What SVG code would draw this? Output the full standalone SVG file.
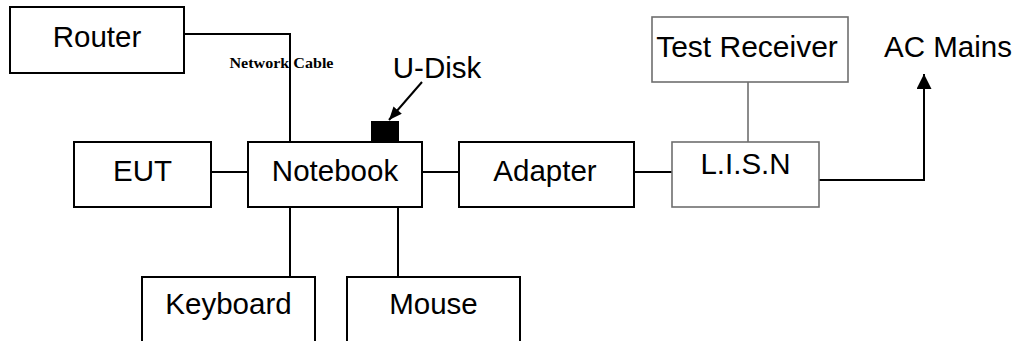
<svg xmlns="http://www.w3.org/2000/svg" width="1018" height="341" viewBox="0 0 1018 341">
  <style>
    .box { fill: #ffffff; stroke: #000000; stroke-width: 2; }
    .box-gray { fill: #ffffff; stroke: #6e6e6e; stroke-width: 1.6; }
    .label { font-family: "Liberation Sans", Arial, sans-serif; font-size: 29.5px; fill: #000000; text-anchor: middle; }
    .wire { fill: none; stroke: #000000; stroke-width: 2; }
    .wire-gray { fill: none; stroke: #6e6e6e; stroke-width: 1.6; }
    .cable-label { font-family: "Liberation Serif", "Times New Roman", serif; font-weight: bold; font-size: 15px; fill: #000000; }
  </style>
  <defs>
    <marker id="arrow-big" viewBox="0 0 10 10" refX="10" refY="5" markerWidth="15" markerHeight="15" markerUnits="userSpaceOnUse" orient="auto">
      <path d="M0,0 L10,5 L0,10 z" fill="#000000"/>
    </marker>
    <marker id="arrow-udisk" viewBox="0 0 12 10" refX="12" refY="5" markerWidth="14" markerHeight="11" markerUnits="userSpaceOnUse" orient="auto">
      <path d="M0,0 L12,5 L0,10 z" fill="#000000"/>
    </marker>
  </defs>

  <rect width="1018" height="341" fill="#ffffff"/>

  <!-- connectors -->
  <g id="connectors">
    <polyline class="wire" points="184,34 290,34 290,142"/>
    <line class="wire" x1="211" y1="172" x2="248" y2="172"/>
    <line class="wire" x1="422" y1="172" x2="459" y2="172"/>
    <line class="wire" x1="634" y1="172" x2="672" y2="172"/>
    <line class="wire-gray" x1="748" y1="82" x2="748" y2="142"/>
    <line class="wire" x1="290" y1="207" x2="290" y2="277"/>
    <line class="wire" x1="398" y1="207" x2="398" y2="277"/>
    <polyline class="wire" points="819,180 924,180 924,74" marker-end="url(#arrow-big)"/>
    <line class="wire" x1="422" y1="82" x2="389" y2="120" marker-end="url(#arrow-udisk)"/>
    <text class="cable-label" x="229.5" y="68" textLength="104" lengthAdjust="spacingAndGlyphs">Network Cable</text>
  </g>

  <g id="router">
    <rect class="box" x="10" y="7" width="174" height="66"/>
    <text class="label" x="97" y="47">Router</text>
  </g>

  <g id="eut">
    <rect class="box" x="74" y="142" width="137" height="65"/>
    <text class="label" x="142.5" y="181">EUT</text>
  </g>

  <g id="notebook">
    <rect class="box" x="248" y="142" width="174" height="65"/>
    <text class="label" x="335" y="181">Notebook</text>
  </g>

  <g id="u-disk">
    <rect x="371" y="121" width="28" height="21" fill="#000000"/>
    <text class="label" x="437" y="78">U-Disk</text>
  </g>

  <g id="adapter">
    <rect class="box" x="459" y="142" width="175" height="65"/>
    <text class="label" x="545" y="181">Adapter</text>
  </g>

  <g id="lisn">
    <rect class="box-gray" x="672" y="142" width="147" height="65"/>
    <text class="label" x="745.5" y="174">L.I.S.N</text>
  </g>

  <g id="test-receiver">
    <rect class="box-gray" x="652" y="17" width="196" height="65"/>
    <text class="label" x="747" y="57" style="font-size:30px">Test Receiver</text>
  </g>

  <g id="ac-mains">
    <text class="label" x="948" y="57">AC Mains</text>
  </g>

  <g id="keyboard">
    <rect class="box" x="142" y="277" width="173" height="80"/>
    <text class="label" x="228.5" y="314">Keyboard</text>
  </g>

  <g id="mouse">
    <rect class="box" x="347" y="277" width="173" height="80"/>
    <text class="label" x="433.5" y="314">Mouse</text>
  </g>
</svg>
